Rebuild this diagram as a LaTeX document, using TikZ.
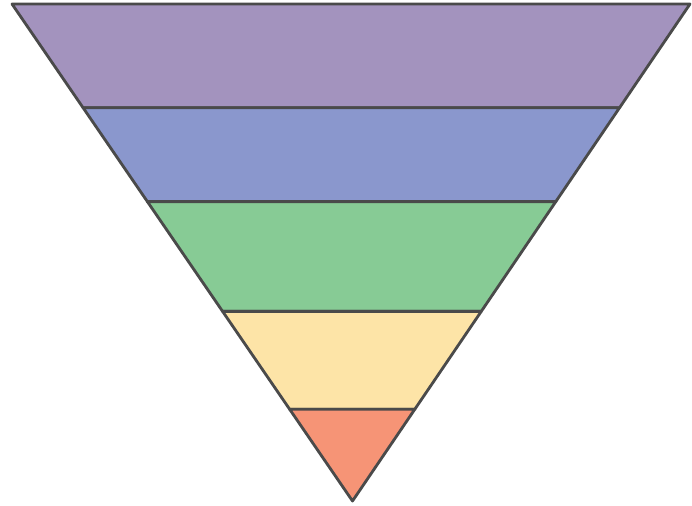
\documentclass[tikz,border=0pt]{standalone}
\usetikzlibrary{calc}
\definecolor{layerA}{HTML}{A393BE}
\definecolor{layerB}{HTML}{8A97CD}
\definecolor{layerC}{HTML}{87CB95}
\definecolor{layerD}{HTML}{FDE4A7}
\definecolor{layerE}{HTML}{F69476}
\definecolor{edge}{HTML}{4A4A4A}

\begin{document}
\begin{tikzpicture}[x=0.02cm, y=-0.02cm,
  band/.style={draw=edge, line width=1.6pt, line join=round}]
  \useasboundingbox (0,0) rectangle (692,506);
  % Corners
  \coordinate (tl) at (12,4);
  \coordinate (tr) at (690,4);
  \coordinate (apex) at (352.5,501);
  % Bands, top to bottom
  \foreach \ta/\tb/\col in {0/0.2088/layerA, 0.2088/0.3976/layerB,
      0.3976/0.6185/layerC, 0.6185/0.8153/layerD, 0.8153/1/layerE} {
    \filldraw[band, fill=\col]
      ($(tl)!\ta!(apex)$) -- ($(tr)!\ta!(apex)$) --
      ($(tr)!\tb!(apex)$) -- ($(tl)!\tb!(apex)$) -- cycle;
  }
\end{tikzpicture}
\end{document}
